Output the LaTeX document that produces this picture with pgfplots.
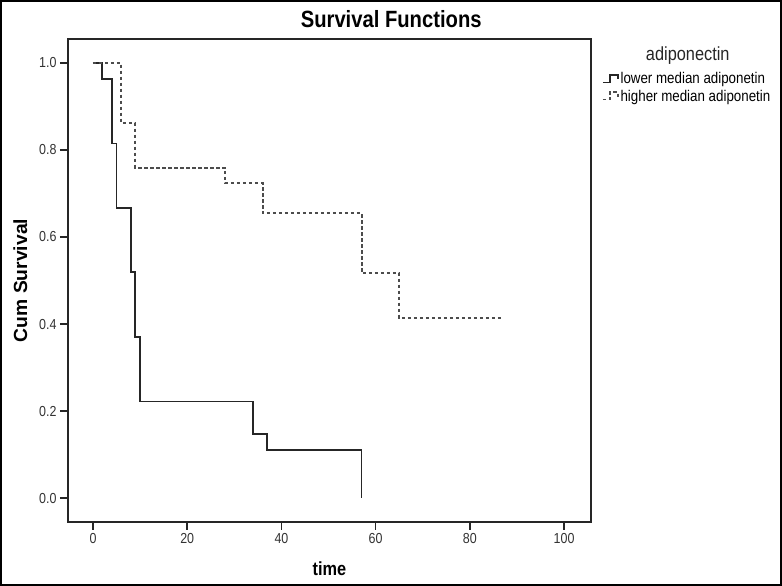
\documentclass[border=0pt]{standalone}
\usepackage{fontspec}
\setmainfont[FakeStretch=0.86]{Liberation Sans}
\usepackage{graphicx}
\usepackage{pgfplots}
\pgfplotsset{compat=1.18}

% Kaplan-Meier steps
\pgfplotstableread{
t    s
0    1.000
2    0.963
4    0.815
5    0.667
8    0.519
9    0.370
10   0.222
34   0.148
37   0.111
57   0.000
}\lowtab
\pgfplotstableread{
t    s
0    1.000
6    0.862
9    0.759
28   0.724
36   0.655
57   0.517
65   0.414
87   0.414
}\hightab

\begin{document}
\begin{tikzpicture}
\useasboundingbox (-68pt,-64pt) rectangle (714pt,522pt);
\draw[line width=2pt] (-67pt,-63pt) rectangle (713pt,521pt);
\begin{axis}[
  at={(0pt,0pt)}, anchor=south west,
  scale only axis, width=523pt, height=483pt,
  xmin=-5.3, xmax=105.7, ymin=-0.055, ymax=1.055,
  xtick={0,20,...,100}, ytick={0,0.2,...,1.0},
  axis line style={line width=1.5pt, black!85},
  tick style={line width=1.5pt, black!85},
  tick align=outside, tickwidth=8pt,
  xtick pos=bottom, ytick pos=left,
  /pgf/number format/assume math mode=true,
  yticklabel style={/pgf/number format/.cd, fixed, fixed zerofill, precision=1},
  tick label style={font=\fontsize{14.5}{14.5}\selectfont, black!80},
  xlabel={\textbf{time}},
  ylabel={\scalebox{1.18}[1]{\textbf{Cum Survival}}},
  label style={font=\fontsize{19}{19}\selectfont},
  xlabel style={yshift=-11pt},
  ylabel style={yshift=5pt},
  title={\textbf{Survival Functions}},
  title style={font=\fontsize{23.5}{23.5}\selectfont, at={(rel axis cs:0.618,1)}, yshift=2pt},
  legend style={at={(rel axis cs:1.021,0.935)}, anchor=north west,
    draw=none, fill=none, font=\fontsize{15.5}{15.5}\selectfont,
    row sep=0.5pt, inner sep=0pt,
    /tikz/every even column/.append style={column sep=0pt}},
  legend cell align=left,
  legend image code/.code={
    \draw[#1, line width=1.4pt] (0pt,-3.5pt) -- (7pt,-3.5pt) -- (7pt,4pt) -- (15pt,4pt) -- (15pt,-0.5pt);
  },
  clip=false,
]
\addplot[const plot mark left, line width=1.8pt, black!85] table[x=t, y=s] {\lowtab};
\addlegendentry{lower median adiponetin}
\addplot[const plot mark left, line width=2pt, black!70, dash pattern=on 3.5pt off 2.5pt] table[x=t, y=s] {\hightab};
\addlegendentry{higher median adiponetin}
\node[font=\fontsize{19}{19}\selectfont, black!85] at (rel axis cs:1.185,0.965) {adiponectin};
\end{axis}
\end{tikzpicture}
\end{document}
